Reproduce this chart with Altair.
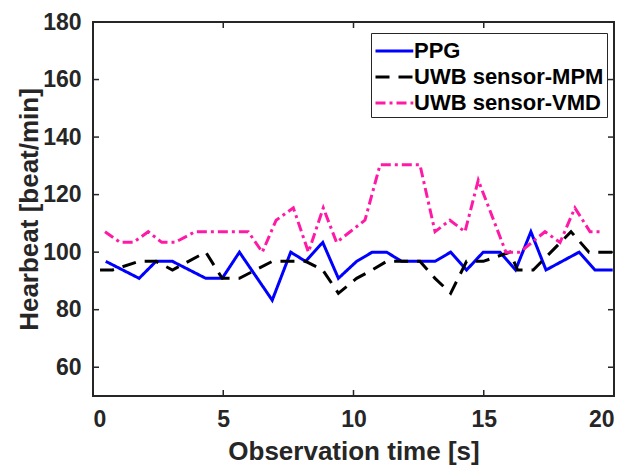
import altair as alt
import pandas as pd

# ---- data ----
series_names = ["PPG", "UWB sensor-MPM", "UWB sensor-VMD"]

ppg_t = [0.49, 1.77, 2.42, 3.05, 4.33, 4.96, 5.62, 6.88, 7.59, 8.16, 8.82, 9.42, 10.12,
         10.72, 11.27, 11.85, 13.13, 13.73, 14.34, 14.98, 15.62, 16.22, 16.81, 17.39,
         18.66, 19.27, 19.95]
ppg_hr = [96.8, 90.9, 96.8, 96.8, 90.9, 90.9, 100.0, 83.3, 100.0, 96.8, 103.4, 90.9, 96.8,
          100.0, 100.0, 96.8, 96.8, 100.0, 93.8, 100.0, 100.0, 93.8, 107.1, 93.8,
          100.0, 93.8, 93.8]

mpm_t = [0.27, 0.75, 1.77, 2.42, 3.05, 4.33, 4.96, 5.62, 6.88, 8.16, 8.82, 9.42, 10.12,
         10.72, 11.27, 12.55, 13.13, 13.73, 14.34, 14.98, 16.0, 16.3, 16.9, 18.35,
         19.04, 19.95]
mpm_hr = [93.8, 93.8, 96.8, 96.8, 93.8, 100.0, 90.9, 90.9, 96.8, 96.8, 93.8, 85.7, 90.9,
          93.8, 96.8, 96.8, 90.9, 85.7, 96.8, 96.8, 100.0, 93.8, 93.8, 107.1,
          100.0, 100.0]

vmd_t = [0.46, 1.04, 1.55, 2.12, 2.64, 3.15, 3.92, 5.96, 6.5, 7.03, 7.69, 8.27, 8.84,
         9.35, 9.87, 10.44, 11.02, 12.55, 13.13, 13.7, 14.28, 14.79, 15.85, 16.39,
         17.35, 17.93, 18.5, 19.08, 19.59]
vmd_hr = [107.1, 103.4, 103.4, 107.1, 103.4, 103.4, 107.1, 107.1, 100.0, 111.1, 115.4,
          100.0, 115.4, 103.4, 107.1, 111.1, 130.4, 130.4, 107.1, 111.1, 107.1, 125.0,
          100.0, 100.0, 107.1, 103.4, 115.4, 107.1, 107.1]

x_ticks = [0, 5, 10, 15, 20]
y_ticks = [60, 80, 100, 120, 140, 160, 180]

# ---- build table ----
rows = []
for name, ts, hs in zip(series_names, [ppg_t, mpm_t, vmd_t], [ppg_hr, mpm_hr, vmd_hr]):
    for i, (t, h) in enumerate(zip(ts, hs)):
        rows.append({"series": name, "t": t, "hr": h, "order": i})
df = pd.DataFrame(rows)
xt_df = pd.DataFrame({"t": x_ticks})
yt_df = pd.DataFrame({"hr": y_ticks})

W, H = 521, 374
FONT = "Liberation Sans"
INK = "#262626"
TICK = 6

xs = alt.Scale(domain=[0, 20], nice=False, zero=False)
ys = alt.Scale(domain=[50, 180], nice=False, zero=False)

legend = alt.Legend(
    title=None, orient="none", legendX=278, legendY=11,
    symbolType="M-1,0L1.8,0", symbolSize=729, symbolStrokeWidth=3,
    labelFont=FONT, labelFontSize=22, labelFontWeight="bold", labelColor="#000000",
    labelLimit=0, labelOffset=10, rowPadding=0, padding=3,
    strokeColor=INK, fillColor="white",
)

lines = alt.Chart(df).mark_line(strokeWidth=3, strokeCap="butt").encode(
    x=alt.X("t:Q", scale=xs, axis=alt.Axis(
        values=x_ticks, title="Observation time [s]", labelPadding=12,
        titleY=63, titleBaseline="alphabetic")),
    y=alt.Y("hr:Q", scale=ys, axis=alt.Axis(
        values=y_ticks, title="Hearbeat [beat/min]", labelPadding=12,
        titleX=-56, titleY=187, titleAngle=270, titleBaseline="alphabetic",
        titleAlign="center")),
    color=alt.Color("series:N", scale=alt.Scale(
        domain=series_names, range=["#0000ff", "#000000", "#ff1aa6"]), legend=legend),
    strokeDash=alt.StrokeDash("series:N", scale=alt.Scale(
        domain=series_names, range=[[1, 0], [14, 9], [10, 4, 3, 4]]), legend=legend),
    order="order:Q",
)

tick_style = dict(color=INK, strokeWidth=1.5)
x_bottom = alt.Chart(xt_df).mark_rule(**tick_style).encode(
    x="t:Q", y=alt.value(H), y2=alt.value(H - TICK))
x_top = alt.Chart(xt_df).mark_rule(**tick_style).encode(
    x="t:Q", y=alt.value(0), y2=alt.value(TICK))
y_left = alt.Chart(yt_df).mark_rule(**tick_style).encode(
    y="hr:Q", x=alt.value(0), x2=alt.value(TICK))
y_right = alt.Chart(yt_df).mark_rule(**tick_style).encode(
    y="hr:Q", x=alt.value(W), x2=alt.value(W - TICK))

chart = alt.layer(x_bottom, x_top, y_left, y_right, lines).properties(
    width=W, height=H,
    autosize=alt.AutoSizeParams(type="none"),
    padding={"left": 93, "top": 22, "right": 15, "bottom": 70},
).configure_view(
    stroke=INK, strokeWidth=2,
).configure_axis(
    domain=False, ticks=False, tickSize=0, grid=False,
    labelFont=FONT, labelFontSize=23, labelFontWeight="bold", labelColor=INK,
    titleFont=FONT, titleFontSize=26, titleFontWeight="bold", titleColor=INK,
)

chart.save("out.html", embed_options={"renderer": "svg", "actions": False})
